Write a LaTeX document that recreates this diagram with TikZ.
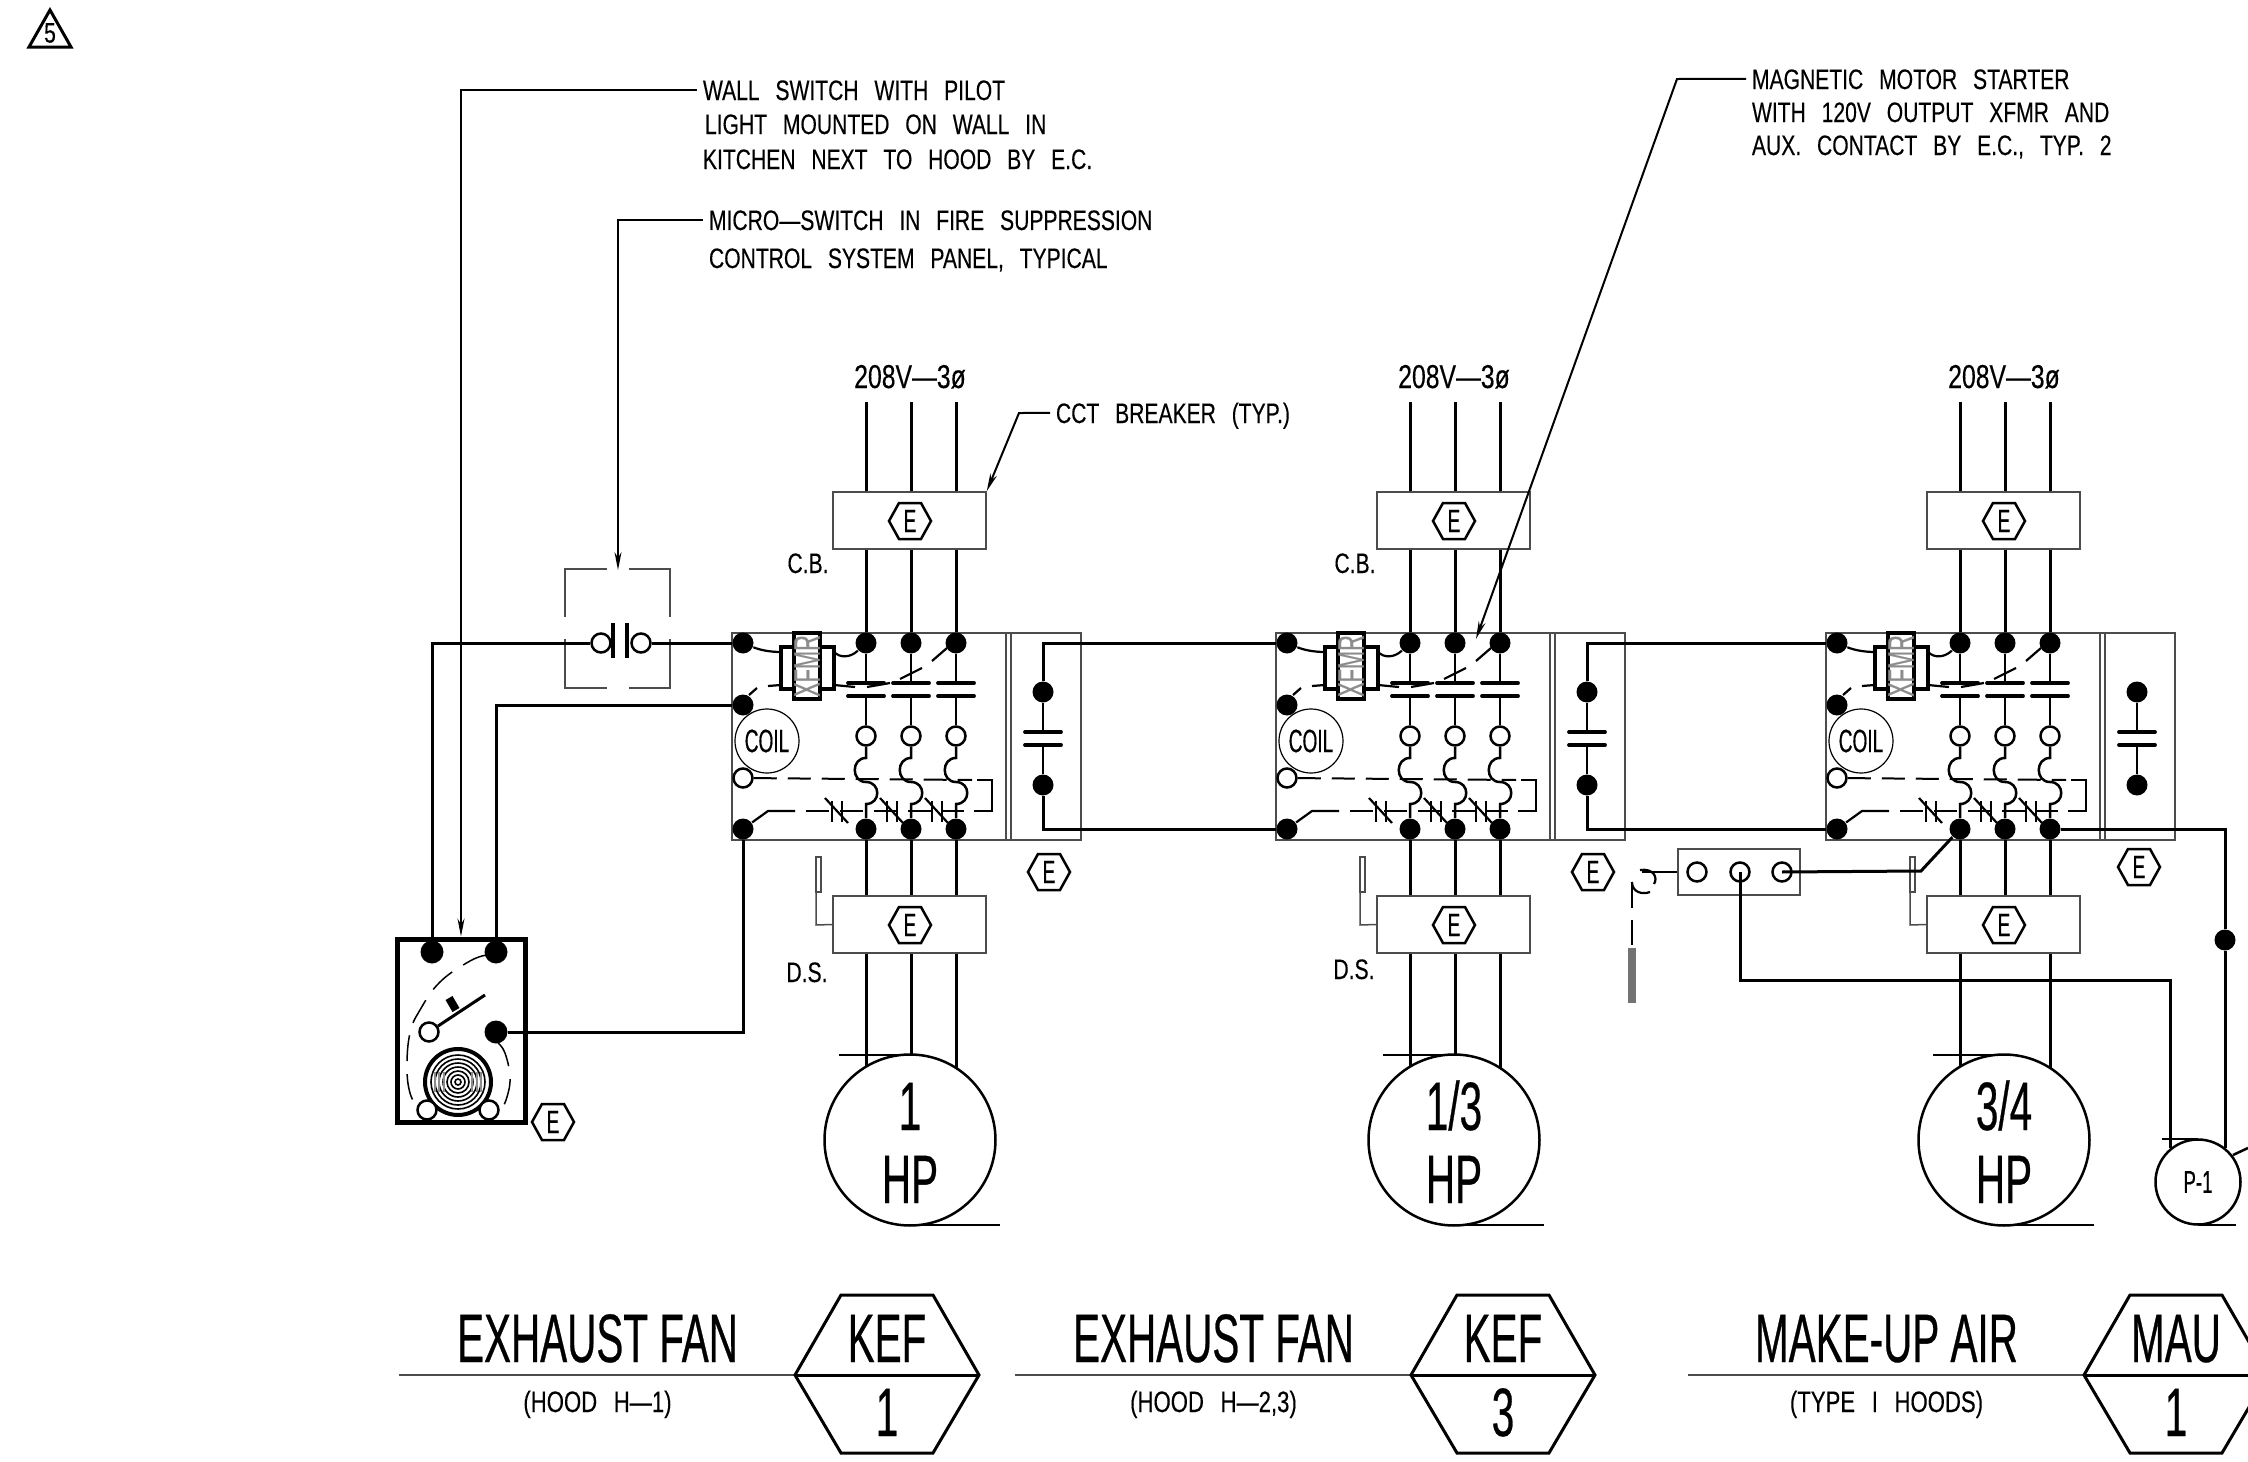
\documentclass[tikz,border=0pt]{standalone}
\usepackage{fontspec}
\usetikzlibrary{arrows.meta}
\newfontfamily\cadfam[FakeStretch=0.75,WordSpace=2.7,FakeBold=0.25]{Liberation Sans}
\newfontfamily\bigfam[FakeStretch=0.59,FakeBold=0.4]{Liberation Sans}
\tikzset{
	wire/.style={line width=0.3mm},
	fine/.style={line width=0.22mm},
	hair/.style={line width=0.15mm, draw=black!70},
	bar/.style={line width=0.38mm, line cap=round},
	dashwire/.style={line width=0.2mm, dash pattern=on 2.3mm off 1.1mm},
	term/.style={circle, fill=black, inner sep=0pt, minimum size=2.1mm},
	opent/.style={circle, draw, fill=white, line width=0.25mm, inner sep=0pt, minimum size=1.9mm},
	ebox/.style={draw=black!70, fill=white, line width=0.15mm, inner sep=0pt, minimum width=15.3mm, minimum height=5.7mm},
	note/.style={font=\fontsize{8}{9}\selectfont\cadfam, inner sep=0pt, outer sep=0.6mm, anchor=base west, text height=5.7pt, text depth=0pt},
	smalltxt/.style={font=\fontsize{9}{10}\selectfont\bigfam, inner sep=0pt, anchor=base},
	bigtxt/.style={font=\fontsize{19.5}{20}\selectfont\bigfam, inner sep=0pt, anchor=base},
	leader/.style={line width=0.2mm},
	tiparrow/.style={-{Stealth[length=1.8mm,width=0.7mm]}},
}
% E tag: name, position
\newcommand{\hexE}[2]{
	\begin{scope}[shift={(#2)}]
		\draw[line width=0.25mm] (-21,0) -- (-11,-18) -- (11,-18) -- (21,0) -- (11,18) -- (-11,18) -- cycle;
		\node[smalltxt, font=\fontsize{9.2}{10}\selectfont\bigfam, anchor=center] (#1) at (0,0) {E};
	\end{scope}
}
% starter cabinet: name, x shift, poles that reach the motor, motor size
\newcommand{\starter}[4]{
	\begin{scope}[shift={(#2,0)}]
		\draw[hair] (732,633) rectangle (1081,840);
		\draw[hair] (1006,633) -- (1006,840) (1011,633) -- (1011,840);
		\node[term] (#1a) at (743,643) {};
		\node[term] (#1b) at (743,705) {};
		\node[opent] (#1c) at (743,778) {};
		\node[term] (#1d) at (743,829) {};
		\node[draw, circle, line width=0.12mm, inner sep=0pt, minimum size=6.4mm, font=\fontsize{9.2}{10}\selectfont\bigfam] (#1coil) at (767,741) {COIL};
		\foreach \p/\px in {a/866,b/911,c/956} {
			\coordinate (#1s\p) at (\px,402);
			\node[term] (#1t\p) at (\px,643) {};
			\node[term] (#1e\p) at (\px,829) {};
			\node[opent] (#1o\p) at (\px,736) {};
			\draw[wire] (#1s\p) -- (#1t\p);
			\draw[fine] (#1t\p) -- (\px,683) (\px,696) -- (#1o\p);
			\draw[bar] (\px-18,683) -- (\px+18,683) (\px-18,696) -- (\px+18,696);
			\draw[line width=0.25mm] (#1o\p) -- (\px,758) .. controls (\px-15,758) and (\px-15,782) .. (\px,782)
				.. controls (\px+15,782) and (\px+15,804) .. (\px,804) -- (#1e\p);
			\draw[wire] (#1e\p) -- (\px,900);
		}
		\foreach \p/\px in {#3} {
			\coordinate (#1m\p) at (\px,1110);
			\draw[wire] (\px,950) -- (#1m\p);
		}
		% transformer
		\draw[line width=0.38mm] (781,647) rectangle (834,689);
		\draw[line width=0.38mm, fill=white] (794,633) rectangle (820,699);
		\node[smalltxt, anchor=center, text=black!45, rotate=90, font=\fontsize{10.5}{11}\selectfont\bigfam] (#1x) at (807,666) {XFMR};
		\draw[fine] (#1a) .. controls (760,650) and (770,652) .. (781,652);
		\draw[fine] (834,652) .. controls (840,658) and (850,658) .. (#1ta);
		% control dashes
		\draw[fine] (749,695) -- (757,688) (768,686) -- (781,685) (834,685) -- (855,687)
			(867,687) -- (890,683) (900,679) -- (922,668) (932,661) -- (947,648);
		\draw[dashwire] (#1c) -- (972,780);
		\draw[fine] (977,780) -- (992,780) -- (992,811) -- (974,811);
		\draw[fine] (#1d) -- (768,811) -- (795,811);
		\draw[dashwire] (806,811) -- (964,811);
		\foreach \nx in {837,892,937} {
			\draw[fine] (\nx-5,801) -- (\nx-5,822) (\nx+5,801) -- (\nx+5,822);
			\draw[fine] (\nx-12,798) -- (\nx+11,823);
		}
		% auxiliary contact
		\node[term] (#1u) at (1043,692) {};
		\node[term] (#1l) at (1043,785) {};
		\draw[fine] (#1u) -- (1043,732) (1043,745) -- (#1l);
		\draw[bar] (1025,732) -- (1061,732) (1025,745) -- (1061,745);
		% breaker, disconnect, motor
		\node[ebox] (#1cb) at (909.5,520.5) {};
		\node[ebox] (#1ds) at (909.5,924.5) {};
		\hexE{#1cbe}{910,521}
		\hexE{#1dse}{910,925}
		\draw[hair] (816,857) rectangle (821,892);
		\draw[hair] (816,892) -- (816,925) -- (#1ds.west);
		\node[draw, circle, fill=white, line width=0.25mm, inner sep=0pt, minimum size=17.1mm] (#1mot) at (910,1140) {};
		\draw[line width=0.25mm] (839,1055) -- (910,1055) (910,1225) -- (1000,1225);
		\node[bigtxt] (#1hp) at (910,1203) {HP};
		\node[bigtxt] (#1sz) at (910,1130) {#4};
		\node[smalltxt, font=\fontsize{9.4}{10}\selectfont\cadfam] (#1v) at (910,388) {208V—3ø};
	\end{scope}
}
% schedule tag: name, x shift, title, subtitle, top, bottom
\newcommand{\unittag}[6]{
	\begin{scope}[shift={(#2,0)}]
		\draw[line width=0.15mm, draw=black!70] (399,1375) -- (795,1375);
		\draw[line width=0.3mm] (795,1375) -- (841,1295) -- (933,1295) -- (979,1375) -- (933,1453) -- (841,1453) -- cycle;
		\draw[line width=0.3mm] (795,1375) -- (979,1375);
		\node[bigtxt] (#1t) at (597.5,1362) {#3};
		\node[note, anchor=base, outer sep=0pt, text depth=1pt, font=\fontsize{8.4}{9}\selectfont\cadfam] (#1s) at (597.5,1412) {#4};
		\node[bigtxt] (#1k) at (887,1362) {#5};
		\node[bigtxt] (#1n) at (887,1436) {#6};
	\end{scope}
}
\begin{document}
\begin{tikzpicture}[x=0.1mm,y=-0.1mm]
	\clip (0,0) rectangle (2248,1462);
	\starter{ma}{0}{a/866,b/911,c/956}{1}
	\starter{mb}{544}{a/866,b/911,c/956}{1/3}
	\starter{mc}{1094}{a/866,c/956}{3/4}
	% revision mark
	\draw[line width=0.3mm] (50,10) -- (29,47) -- (71,47) -- cycle;
	\node[smalltxt, anchor=center, font=\fontsize{8}{9}\selectfont\cadfam] (rev) at (50,33) {5};
	% notes
	\node[note] (wall1) at (697,100) {WALL SWITCH WITH PILOT};
	\node[note] (wall2) at (699,134) {LIGHT MOUNTED ON WALL IN};
	\node[note] (wall3) at (697,169) {KITCHEN NEXT TO HOOD BY E.C.};
	\node[note] (micro1) at (703,230) {MICRO—SWITCH IN FIRE SUPPRESSION};
	\node[note] (micro2) at (703,268) {CONTROL SYSTEM PANEL, TYPICAL};
	\node[note] (magn1) at (1746,89) {MAGNETIC MOTOR STARTER};
	\node[note] (magn2) at (1746,122) {WITH 120V OUTPUT XFMR AND};
	\node[note] (magn3) at (1746,155) {AUX. CONTACT BY E.C., TYP. 2};
	\node[note] (cct) at (1050,423) {CCT BREAKER (TYP.)};
	\node[note, anchor=base, outer sep=0pt] (cba) at (808,573) {C.B.};
	\node[note, anchor=base, outer sep=0pt] (dsa) at (807,982) {D.S.};
	\node[note, anchor=base, outer sep=0pt] (cbb) at (1355,573) {C.B.};
	\node[note, anchor=base, outer sep=0pt] (dsb) at (1354,979) {D.S.};
	% wall switch
	\node[draw, line width=0.5mm, inner sep=0pt, minimum width=12.8mm, minimum height=18.3mm] (sw) at (461,1030.5) {};
	\node[term, minimum size=2.3mm] (swa) at (432,952) {};
	\node[term, minimum size=2.3mm] (swb) at (496,952) {};
	\node[term, minimum size=2.3mm] (swc) at (496,1032) {};
	\node[opent] (swo) at (429,1032) {};
	\draw[line width=0.3mm] (swo) -- (485,995);
	\draw[line width=0.8mm] (449,998) -- (456,1010);
	\node[draw, circle, fill=white, line width=0.4mm, inner sep=0pt, minimum size=6.6mm] (drum) at (458,1082) {};
	\foreach \r in {3,7,11,15,19,23,27} {
		\draw[line width=0.16mm] (drum.center) circle (\r);
	}
	\foreach \hx in {-23,-19,-14,14,19,23} {
		\draw[line width=0.14mm, draw=black!45] (458+\hx,1072) -- (458+\hx,1092);
	}
	\node[opent] (swp) at (427,1110) {};
	\node[opent] (swq) at (489,1110) {};
	\draw[line width=0.15mm, dash pattern=on 2.6mm off 1.3mm] plot [smooth, tension=0.7] coordinates {
		(487,955) (470,961) (440,982) (420,1010) (410,1033) (407,1067) (410,1093) (418,1108)
	};
	\draw[line width=0.15mm, dash pattern=on 2.6mm off 1.3mm] plot [smooth, tension=0.7] coordinates {
		(498,1043) (505,1053) (510,1077) (507,1097) (500,1113)
	};
	\hexE{swe}{553,1122}
	% micro switch
	\node[opent] (msl) at (601,643) {};
	\node[opent] (msr) at (641,643) {};
	\draw[line width=0.4mm] (613,623) -- (613,658) (627,623) -- (627,658);
	\coordinate (mstip) at (618,570);
	\draw[hair] (607,569) -- (565,569) -- (565,617) (565,639) -- (565,688) -- (607,688);
	\draw[hair] (629,569) -- (670,569) -- (670,617) (670,639) -- (670,688) -- (629,688);
	% wiring
	\draw[wire] (swa) |- (msl);
	\draw[wire] (msr) -- (maa);
	\draw[wire] (swb) |- (mab);
	\draw[wire] (mad) |- (swc);
	\draw[wire] (mau) |- (mba);
	\draw[wire] (mal) |- (mbd);
	\draw[wire] (mbu) |- (mca);
	\draw[wire] (mbl) |- (mcd);
	% leaders
	\draw[leader, tiparrow] (wall1.west) -| (sw.north);
	\draw[leader, tiparrow] (micro1.west) -| (mstip);
	\coordinate (magtip) at (1476,639);
	\draw[leader, tiparrow] (magn1.west) -- (1677,79) -- (magtip);
	\draw[leader, tiparrow] (cct.west) -- (1019,413) -- (macb.north east);
	% terminal strip and pump
	\hexE{mae}{1049,872}
	\hexE{mbe}{1593,872}
	\hexE{mce}{2139,867}
	\node[draw=black!70, line width=0.15mm, inner sep=0pt, minimum width=12.2mm, minimum height=4.6mm] (strip) at (1739,872) {};
	\node[opent, minimum size=1.9mm] (stripa) at (1697,872) {};
	\node[opent, minimum size=1.9mm] (stripb) at (1740,872) {};
	\node[opent, minimum size=1.9mm] (stripc) at (1782,872) {};
	\draw[fine] (strip.west) -- (1642,872);
	\draw[fine] (1640,870) .. controls (1654,868) and (1658,878) .. (1654,884);
	\draw[fine] (1632,882) .. controls (1632,892) and (1642,895) .. (1650,892);
	\draw[fine] (1632,882) -- (1632,908) (1632,920) -- (1632,945);
	\fill[black!55] (1628,948) rectangle (1636,1003);
	\node[term] (dot) at (2225,940) {};
	\node[draw, circle, fill=white, line width=0.25mm, inner sep=0pt, minimum size=8.5mm] (pump) at (2198,1182) {};
	\node[smalltxt, anchor=center] (pumpt) at (pump) {P-1};
	\draw[wire] (stripc.center) -- (1921,871) -- (mcea);
	\draw[wire] (stripb.center) |- (2170,980) -- (2170,1148);
	\draw[wire] (mcec) -| (dot) -- (2225,1148);
	\draw[line width=0.25mm] (2162,1139) -- (2198,1139) (2198,1225) -- (2236,1225);
	\draw[line width=0.25mm] (2233,1155) -- (2248,1148);
	% schedule
	\unittag{ua}{0}{EXHAUST FAN}{(HOOD H—1)}{KEF}{1}
	\unittag{ub}{616}{EXHAUST FAN}{(HOOD H—2,3)}{KEF}{3}
	\unittag{uc}{1289}{MAKE-UP AIR}{(TYPE I HOODS)}{MAU}{1}
\end{tikzpicture}
\end{document}
